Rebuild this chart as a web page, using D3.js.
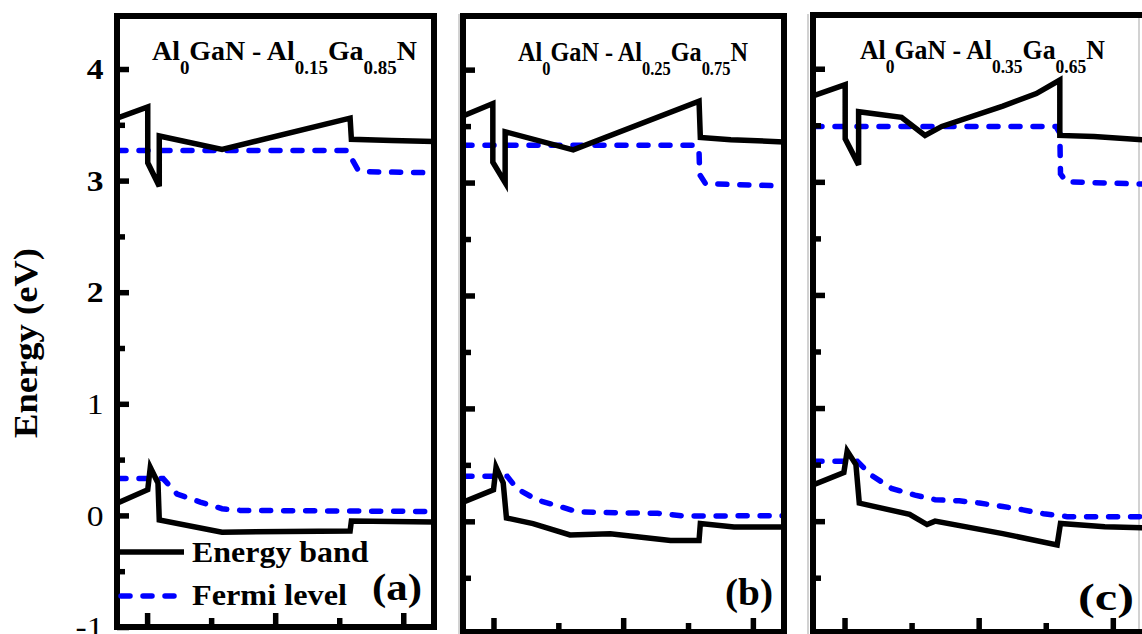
<!DOCTYPE html>
<meta charset="utf-8">
<style>
  body { margin: 0; background: #fff; }
  svg text { font-family: "Liberation Serif", "Times New Roman", serif; fill: #000; }
</style>
<script src="https://d3js.org/d3.v7.min.js"></script>
<div id="chart"></div>
<script>
  // [position (a.u.), energy (eV)]
  var bandUpA  = [[0.53,3.56],[1.01,3.66],[1.01,3.16],[1.19,2.95],[1.19,3.40],[2.17,3.28],[4.17,3.56],[4.19,3.37],[4.82,3.36],[5.48,3.35]];
  var bandLowA = [[0.53,0.11],[1.01,0.23],[1.05,0.43],[1.17,0.29],[1.19,-0.04],[2.17,-0.15],[4.17,-0.14],[4.19,-0.05],[5.48,-0.06]];
  var fermiUpA  = [[0.53,3.27],[4.12,3.27],[4.20,3.19],[4.29,3.10],[4.39,3.08],[5.48,3.07]];
  var fermiLowA = [[0.53,0.33],[1.25,0.33],[1.47,0.19],[1.83,0.12],[2.17,0.06],[2.45,0.045],[5.48,0.035]];

  var bandUpB  = [[0.53,3.59],[0.99,3.70],[0.99,3.18],[1.18,3.00],[1.18,3.45],[2.23,3.29],[4.17,3.72],[4.19,3.40],[4.66,3.38],[5.48,3.36]];
  var bandLowB = [[0.53,0.17],[1.00,0.28],[1.04,0.48],[1.15,0.34],[1.20,0.03],[1.61,-0.02],[2.18,-0.12],[2.80,-0.11],[3.73,-0.17],[4.17,-0.17],[4.19,-0.02],[4.71,-0.05],[5.48,-0.05]];
  var fermiUpB  = [[0.53,3.33],[4.12,3.33],[4.17,3.27],[4.18,3.07],[4.27,2.99],[5.48,2.97]];
  var fermiLowB = [[0.53,0.40],[1.21,0.40],[1.36,0.29],[1.67,0.19],[2.03,0.13],[2.29,0.085],[2.91,0.076],[3.53,0.071],[3.94,0.047],[5.48,0.05]];

  var bandUpC  = [[0.53,3.76],[1.01,3.86],[1.01,3.38],[1.21,3.15],[1.21,3.62],[1.85,3.57],[2.20,3.41],[2.45,3.49],[3.36,3.67],[3.86,3.78],[4.21,3.90],[4.21,3.41],[4.72,3.40],[5.48,3.37]];
  var bandLowC = [[0.53,0.32],[0.99,0.43],[1.04,0.62],[1.17,0.50],[1.22,0.16],[1.97,0.06],[2.23,-0.03],[2.35,0.00],[3.36,-0.11],[4.17,-0.21],[4.22,-0.02],[4.88,-0.05],[5.48,-0.06]];
  var fermiUpC  = [[0.53,3.49],[4.15,3.49],[4.21,3.43],[4.22,3.07],[4.31,3.00],[5.48,2.98]];
  var fermiLowC = [[0.53,0.53],[1.19,0.53],[1.39,0.41],[1.70,0.29],[2.05,0.23],[2.35,0.19],[2.71,0.18],[3.01,0.16],[3.36,0.13],[3.66,0.10],[3.97,0.065],[4.32,0.04],[5.48,0.04]];

  // ticks
  var yMajor = [-1, 0, 1, 2, 3, 4];
  var yMinor = [-0.5, 0.5, 1.5, 2.5, 3.5];
  var xMajor = [1, 3, 5];
  var xMinor = [2, 4];
  var xDomain = [0.53, 5.48];

  // Al fractions for the titles, panel letters, legend
  var alLeft = ["0", "0", "0"];
  var alRight = ["0.15", "0.25", "0.35"];
  var gaRight = ["0.85", "0.75", "0.65"];
  var letters = ["(a)", "(b)", "(c)"];
  var legendLabels = ["Energy band", "Fermi level"];

  var panels = [
    {left: 117, right: 434, top: 16, bottom: 627, yLo: -1, band: [bandUpA, bandLowA], fermi: [fermiUpA, fermiLowA],
     titleX: 152, titleY: 60, titleW: 265, letterX: 372, letterY: 600, letterW: 50},
    {left: 463, right: 784, top: 16, bottom: 632, yLo: -0.98, band: [bandUpB, bandLowB], fermi: [fermiUpB, fermiLowB],
     titleX: 518, titleY: 61, titleW: 230, letterX: 725, letterY: 605, letterW: 48},
    {left: 813, right: 1145, top: 15, bottom: 632, yLo: -0.98, band: [bandUpC, bandLowC], fermi: [fermiUpC, fermiLowC],
     titleX: 860, titleY: 59, titleW: 245, letterX: 1078, letterY: 610, letterW: 56}
  ];
  var yHi = 4.475;

  var svg = d3.select("#chart").append("svg")
      .attr("width", 1142)
      .attr("height", 634);

  // squeeze / stretch a text horizontally so it covers w pixels from x0
  function fit(t, x0, w) {
    var bw = t.node().getBBox().width;
    var k = w / bw;
    t.attr("transform", "translate(" + x0 + ",0) scale(" + k + ",1) translate(" + (-x0) + ",0)");
  }

  // thin separators between the scanned panels
  [459, 808, 1139].forEach(function(sx) {
    svg.append("line").attr("x1", sx).attr("x2", sx).attr("y1", 14).attr("y2", 634)
      .style("stroke", "#b4b4b4").style("stroke-width", 1.2);
  });

  panels.forEach(function(p, i) {
    var x = d3.scaleLinear().domain(xDomain).range([p.left, p.right]);
    var y = d3.scaleLinear().domain([p.yLo, yHi]).range([p.bottom, p.top]);
    var g = svg.append("g");

    svg.append("clipPath").attr("id", "clip" + i)
      .append("rect")
        .attr("x", p.left).attr("y", p.top)
        .attr("width", p.right - p.left).attr("height", p.bottom - p.top);

    var line = d3.line()
        .x(function(d) { return x(d[0]); })
        .y(function(d) { return y(d[1]); });

    var curves = g.append("g").attr("clip-path", "url(#clip" + i + ")");
    p.fermi.forEach(function(f) {
      curves.append("path").datum(f).attr("d", line)
        .style("fill", "none").style("stroke", "#0000ff").style("stroke-width", 5.5)
        .style("stroke-dasharray", "9,13").style("stroke-linecap", "round");
    });
    p.band.forEach(function(b) {
      curves.append("path").datum(b).attr("d", line)
        .style("fill", "none").style("stroke", "#000").style("stroke-width", 5.5)
        .style("stroke-linejoin", "miter");
    });

    // left axis, ticks pointing inside
    var yAxis = d3.axisLeft(y).tickValues(yMajor).tickSizeInner(-12).tickSizeOuter(0).tickPadding(12)
        .tickFormat(i == 0 ? function(d) { return String(d); } : function() { return ""; });
    var ya = g.append("g").attr("transform", "translate(" + p.left + ",0)").call(yAxis);
    var ym = g.append("g").attr("transform", "translate(" + p.left + ",0)")
        .call(d3.axisLeft(y).tickValues(yMinor).tickSizeInner(-8).tickSizeOuter(0).tickFormat(function() { return ""; }));
    var xa = g.append("g").attr("transform", "translate(0," + p.bottom + ")")
        .call(d3.axisBottom(x).tickValues(xMajor).tickSizeInner(-14).tickSizeOuter(0).tickFormat(function() { return ""; }));
    var xm = g.append("g").attr("transform", "translate(0," + p.bottom + ")")
        .call(d3.axisBottom(x).tickValues(xMinor).tickSizeInner(-9).tickSizeOuter(0).tickFormat(function() { return ""; }));
    [ya, ym, xa, xm].forEach(function(a) {
      a.select(".domain").remove();
      a.selectAll(".tick line").style("stroke", "#000").style("stroke-width", 5.5);
    });
    ya.selectAll(".tick text")
      .style("font-size", "30px")
      .style("font-weight", function(d) { return d >= 2 ? "bold" : "normal"; })
      .attr("transform", "scale(1.12,1)");

    // frame
    g.append("rect")
      .attr("x", p.left).attr("y", p.top)
      .attr("width", p.right - p.left).attr("height", p.bottom - p.top)
      .style("fill", "none").style("stroke", "#000").style("stroke-width", 6);

    // title with subscripts
    var t = g.append("text").attr("x", p.titleX).attr("y", p.titleY)
        .style("font-size", "28px").style("font-weight", "bold");
    t.append("tspan").text("Al");
    t.append("tspan").attr("dy", 14).style("font-size", "19px").text(alLeft[i]);
    t.append("tspan").attr("dy", -14).text("GaN - Al");
    t.append("tspan").attr("dy", 14).style("font-size", "19px").text(alRight[i]);
    t.append("tspan").attr("dy", -14).text("Ga");
    t.append("tspan").attr("dy", 14).style("font-size", "19px").text(gaRight[i]);
    t.append("tspan").attr("dy", -14).text("N");
    fit(t, p.titleX, p.titleW);

    var lt = g.append("text").attr("x", p.letterX).attr("y", p.letterY)
        .style("font-size", "38px").style("font-weight", "bold").text(letters[i]);
    fit(lt, p.letterX, p.letterW);

    if (i == 0) {
      // legend
      g.append("line").attr("x1", 118).attr("x2", 184).attr("y1", 552).attr("y2", 552)
        .style("stroke", "#000").style("stroke-width", 5.5);
      g.append("line").attr("x1", 121).attr("x2", 177).attr("y1", 596).attr("y2", 596)
        .style("stroke", "#0000ff").style("stroke-width", 5.5)
        .style("stroke-dasharray", "9,13").style("stroke-linecap", "round");
      var l1 = g.append("text").attr("x", 192).attr("y", 562)
          .style("font-size", "30px").style("font-weight", "bold").text(legendLabels[0]);
      fit(l1, 192, 177);
      var l2 = g.append("text").attr("x", 192).attr("y", 605)
          .style("font-size", "30px").style("font-weight", "bold").text(legendLabels[1]);
      fit(l2, 192, 155);
    }
  });

  // y axis title
  var yt = svg.append("text")
      .attr("text-anchor", "middle")
      .style("font-size", "34px").style("font-weight", "bold")
      .text("Energy (eV)");
  var ylen = yt.node().getComputedTextLength();
  yt.attr("transform", "translate(37,343) rotate(-90) scale(" + (190 / ylen) + ",1)");
</script>
